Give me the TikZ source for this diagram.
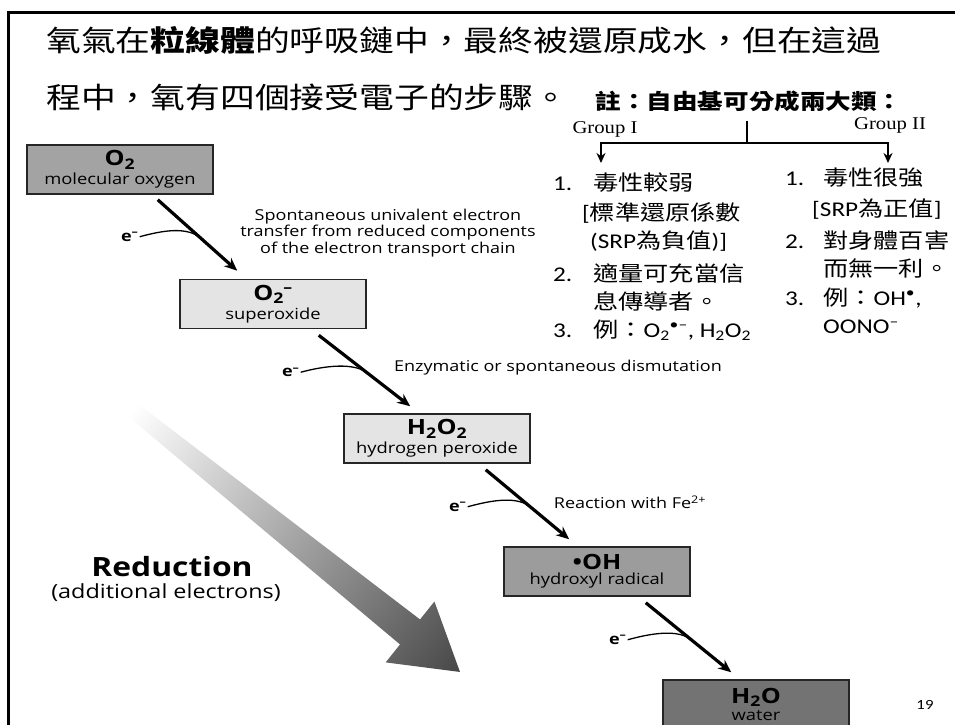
\documentclass[tikz,border=0pt]{standalone}
\usepackage{fontspec}
\usetikzlibrary{arrows.meta,calc}
\setmainfont[FakeStretch=1.2]{Carlito}
\newfontfamily\zhfont[FakeStretch=1.2]{Noto Sans CJK TC}
\newfontfamily\figfont[FakeStretch=1.2]{Open Sans}
\newfontfamily\grpfont[FakeStretch=1.15]{Liberation Serif}
\newcommand{\zh}[1]{{\zhfont #1}}
\newcommand{\fsz}[2]{\fontsize{#1}{#2}\selectfont}
\newcommand{\itemno}[1]{\makebox[40pt][l]{#1}}
\newcommand{\formula}[1]{{\bfseries\fsz{21}{21}#1}}
\newcommand{\species}[1]{{\fsz{15.3}{15.3}#1}}
\definecolor{boxmid}{HTML}{A3A3A3}
\definecolor{boxlight}{HTML}{E4E4E4}
\definecolor{boxoh}{HTML}{9C9C9C}
\definecolor{boxdark}{HTML}{737373}

\begin{document}
\begin{tikzpicture}[x=1pt,y=-1pt,
  species/.style={draw=black!85, line width=1.5pt, minimum width=186pt,
    minimum height=49pt, inner sep=0pt, align=center, font=\figfont},
  react/.style={line width=3.2pt, -{Stealth[length=13pt,width=11pt]}},
  elec/.style={line width=1.3pt},
  elabel/.style={font=\figfont\bfseries\fsz{15}{15}, inner sep=1pt},
  steplabel/.style={font=\figfont\fsz{15}{16.5}, align=center, inner sep=0pt},
  slide/.style={anchor=west, inner sep=0pt, font=\fsz{21}{24}},
  grp/.style={font=\grpfont\fsz{18}{20}, inner sep=0pt},
  forkline/.style={line width=2.2pt},
  forkarrow/.style={forkline, -{Stealth[length=10pt,width=9pt]}},
]
\useasboundingbox (0,0) rectangle (955,724);
\fill[white] (0,0) rectangle (955,724);

% slide frame
\draw[line width=3pt] (962,12) -- (8,12) -- (8,732);

% heading
\node[anchor=west, inner sep=0pt, font=\zhfont\fsz{29}{32}] (title1) at (46,40)
  {氧氣在{\bfseries 粒線體}的呼吸鏈中，最終被還原成水，但在這過};
\node[anchor=west, inner sep=0pt, font=\zhfont\fsz{29}{32}] (title2) at (46,97)
  {程中，氧有四個接受電子的步驟。};

% reduction gradient arrow
\begin{scope}[transform canvas={shift={(133,410)}, rotate=-38.7}]
  \shade[left color=white, right color=black!72]
    (0,-8) -- (355,-16) -- (355,-39) -- (419,0) -- (355,39) -- (355,16) -- (0,8) -- cycle;
\end{scope}
\node[font=\figfont\bfseries\fsz{26.5}{26.5}, inner sep=0pt] (red) at (172,567) {Reduction};
\node[font=\figfont\fsz{19.5}{19.5}, inner sep=0pt] (redsub) at (166,593) {(additional electrons)};

% species
\node[species, fill=boxmid] (o2) at (120,169.5)
  {\formula{O\textsubscript{2}}\\[3pt]\species{molecular oxygen}};
\node[species, fill=boxlight] (sup) at (273,304)
  {\formula{O\textsubscript{2}\kern-0.5pt\textsuperscript{–}}\\[3pt]\species{superoxide}};
\node[species, fill=boxlight] (hp) at (437,438.5)
  {\formula{H\textsubscript{2}O\textsubscript{2}}\\[3pt]\species{hydrogen peroxide}};
\node[species, fill=boxoh] (oh) at (597,571.5)
  {\formula{•OH}\\[3pt]\species{hydroxyl radical}};
\node[species, fill=boxdark] (wat) at (756,704.5)
  {\formula{H\textsubscript{2}O}\\[3pt]\species{water}};

% reaction arrows
\coordinate (s1) at ([shift={(-56,5)}]o2.south east);
\coordinate (t1) at ([shift={(58,-8)}]sup.north west);
\coordinate (s2) at ([shift={(-48,6)}]sup.south east);
\coordinate (t2) at ([shift={(67,-7)}]hp.north west);
\coordinate (s3) at ([shift={(-45,6)}]hp.south east);
\coordinate (t3) at ([shift={(66,-7)}]oh.north west);
\coordinate (s4) at ([shift={(-45,6)}]oh.south east);
\coordinate (t4) at ([shift={(69,-7)}]wat.north west);
\draw[react] (s1) -- (t1);
\draw[react] (s2) -- (t2);
\draw[react] (s3) -- (t3);
\draw[react] (s4) -- (t4);

% incoming electrons
\foreach \k in {1,2,3,4}{
  \node[elabel] (e\k) at ([shift={(-28,37)}]s\k) {e\textsuperscript{–}};
  \draw[elec] (e\k.east) .. controls +(22,-6) and +(-14,-14) .. ($(s\k)!0.56!(t\k)$);
}

% step descriptions
\node[steplabel] (d1) at (388,233)
  {Spontaneous univalent electron\\transfer from reduced components\\of the electron transport chain};
\node[steplabel] (d2) at (558,368) {Enzymatic or spontaneous dismutation};
\node[steplabel] (d3) at (630,502) {Reaction with Fe\textsuperscript{2+}};

% note on the two groups of free radicals
\node[font=\zhfont\bfseries\fsz{21.3}{24}, inner sep=0pt] (notehead) at (749,101)
  {註：自由基可分成兩大類：};
\node[grp] (gI) at (605,129) {Group I};
\node[grp] (gII) at (890,125) {Group II};
\coordinate (fork) at (747,143);
\coordinate (gIend) at (601,163);
\coordinate (gIIend) at (888,163);
\draw[forkline] (fork) -- ++(0,-22);
\draw[forkarrow] (fork) -| (gIend);
\draw[forkarrow] (fork) -| (gIIend);

\node[slide] (g1a) at (553,183) {\itemno{1.}\zh{毒性較弱}};
\node[slide] (g1b) at (582,213) {[\zh{標準還原係數}};
\node[slide] (g1c) at (590,241) {(SRP\zh{為負值})]};
\node[slide] (g1d) at (553,273) {\itemno{2.}\zh{適量可充當信}};
\node[slide] (g1e) at (593,301) {\zh{息傳導者。}};
\node[slide] (g1f) at (553,330) {\itemno{3.}\zh{例：}O\textsubscript{2}\textsuperscript{•–}, H\textsubscript{2}O\textsubscript{2}};

\node[slide] (g2a) at (785,178) {\makebox[38pt][l]{1.}\zh{毒性很強}};
\node[slide] (g2b) at (812,209) {[SRP\zh{為正值}]};
\node[slide] (g2c) at (785,240) {\makebox[38pt][l]{2.}\zh{對身體百害}};
\node[slide] (g2d) at (823,268) {\zh{而無一利。}};
\node[slide] (g2e) at (785,298) {\makebox[38pt][l]{3.}\zh{例：}OH\textsuperscript{•},};
\node[slide] (g2f) at (823,327) {OONO\textsuperscript{–}};

% page number
\node[font=\fsz{14}{14}, inner sep=0pt] (pg) at (925,705) {19};
\end{tikzpicture}
\end{document}
